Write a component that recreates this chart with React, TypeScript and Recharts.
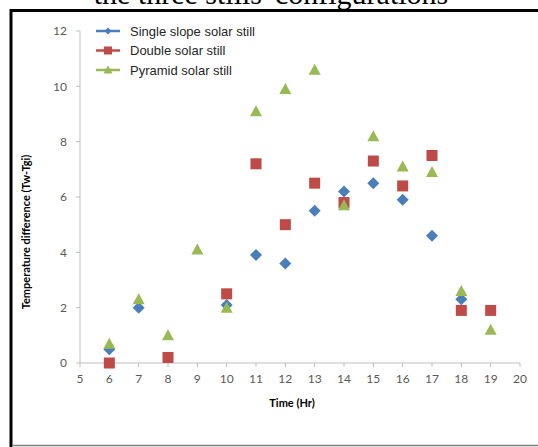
import React from "react";
import { ScatterChart, Scatter, XAxis, YAxis } from "recharts";

// hours and temperature difference (Tw-Tgi) for each still
const singleHours = [6, 7, 10, 11, 12, 13, 14, 15, 16, 17, 18];
const singleValues = [0.5, 2.0, 2.1, 3.9, 3.6, 5.5, 6.2, 6.5, 5.9, 4.6, 2.3];

const doubleHours = [6, 8, 10, 11, 12, 13, 14, 15, 16, 17, 18, 19];
const doubleValues = [0, 0.2, 2.5, 7.2, 5.0, 6.5, 5.8, 7.3, 6.4, 7.5, 1.9, 1.9];

const pyramidHours = [6, 7, 8, 9, 10, 11, 12, 13, 14, 15, 16, 17, 18, 19];
const pyramidValues = [0.7, 2.3, 1.0, 4.1, 2.0, 9.1, 9.9, 10.6, 5.7, 8.2, 7.1, 6.9, 2.6, 1.2];

const xTicks = [5, 6, 7, 8, 9, 10, 11, 12, 13, 14, 15, 16, 17, 18, 19, 20];
const yTicks = [0, 2, 4, 6, 8, 10, 12];

const seriesNames = ["Single slope solar still", "Double solar still", "Pyramid solar still"];

const BLUE = "#4A7EBB";
const RED = "#BE4B48";
const GREEN = "#98B954";

const toPoints = (xs: number[], ys: number[]) => xs.map((x, i) => ({ x, y: ys[i] }));

const singleData = toPoints(singleHours, singleValues);
const doubleData = toPoints(doubleHours, doubleValues);
const pyramidData = toPoints(pyramidHours, pyramidValues);

const Diamond = (props: any) => {
  const { cx, cy } = props;
  const r = 6;
  return <path d={`M${cx},${cy - r}L${cx + r},${cy}L${cx},${cy + r}L${cx - r},${cy}Z`} fill={BLUE} />;
};

const Square = (props: any) => {
  const { cx, cy } = props;
  const r = 5.5;
  return <rect x={cx - r} y={cy - r} width={r * 2} height={r * 2} fill={RED} />;
};

const Triangle = (props: any) => {
  const { cx, cy } = props;
  return <path d={`M${cx},${cy - 6}L${cx + 6},${cy + 5}L${cx - 6},${cy + 5}Z`} fill={GREEN} />;
};

const tickStyle = { fill: "#595959", fontSize: 12, fontFamily: "Lato, 'Open Sans', sans-serif" };

export default function App() {
  const legendColors = [BLUE, RED, GREEN];
  return (
    <div style={{ position: "absolute", left: 0, top: 0, width: 538, height: 447, background: "#fff" }}>
      <ScatterChart width={538} height={447} margin={{ top: 31, right: 18, bottom: 54, left: 40 }}>
        <XAxis
          type="number"
          dataKey="x"
          domain={[5, 20]}
          ticks={xTicks}
          interval={0}
          height={30}
          stroke="#BFBFBF"
          tickSize={4}
          tickMargin={7}
          tick={tickStyle}
        />
        <YAxis
          type="number"
          dataKey="y"
          domain={[0, 12]}
          ticks={yTicks}
          interval={0}
          width={40}
          stroke="#BFBFBF"
          tickSize={4}
          tickMargin={9}
          tick={tickStyle}
        />
        <Scatter data={singleData} shape={Diamond} isAnimationActive={false} />
        <Scatter data={doubleData} shape={Square} isAnimationActive={false} />
        <Scatter data={pyramidData} shape={Triangle} isAnimationActive={false} />
      </ScatterChart>

      <svg width={538} height={447} style={{ position: "absolute", left: 0, top: 0, pointerEvents: "none" }}>
        <text x={271} y={4} textAnchor="middle" fontFamily="'Liberation Serif', serif" fontSize={30} fill="#000">
          the three stills' configurations
        </text>
        <line x1={11} y1={10.5} x2={538} y2={10.5} stroke="#000" strokeWidth={3} />
        <line x1={11} y1={9} x2={11} y2={447} stroke="#000" strokeWidth={3} />
        <line x1={12} y1={445.5} x2={538} y2={445.5} stroke="#808080" strokeWidth={1.5} />

        {seriesNames.map((name, i) => {
          const y = 31 + i * 19.5;
          const cx = 108;
          const c = legendColors[i];
          return (
            <g key={name}>
              <line x1={96} y1={y} x2={120} y2={y} stroke={c} strokeWidth={2.5} />
              {i === 0 && <path d={`M${cx},${y - 3.5}L${cx + 3.5},${y}L${cx},${y + 3.5}L${cx - 3.5},${y}Z`} fill={c} />}
              {i === 1 && <rect x={cx - 4} y={y - 4} width={8} height={8} fill={c} />}
              {i === 2 && <path d={`M${cx},${y - 4.5}L${cx + 4.5},${y + 3.5}L${cx - 4.5},${y + 3.5}Z`} fill={c} />}
              <text x={130} y={y + 4.5} fontFamily="'Liberation Sans', Arial, sans-serif" fontSize={13} fill="#262626">
                {name}
              </text>
            </g>
          );
        })}

        <text
          x={30}
          y={232}
          transform="rotate(-90 30 232)"
          textAnchor="middle"
          fontFamily="Lato, 'Open Sans', sans-serif"
          fontWeight="bold"
          fontSize={11}
          fill="#000"
        >
          Temperature difference (Tw-Tgi)
        </text>
        <text
          x={292}
          y={407}
          textAnchor="middle"
          fontFamily="Lato, 'Open Sans', sans-serif"
          fontWeight="bold"
          fontSize={11}
          fill="#000"
        >
          Time (Hr)
        </text>
      </svg>
    </div>
  );
}
